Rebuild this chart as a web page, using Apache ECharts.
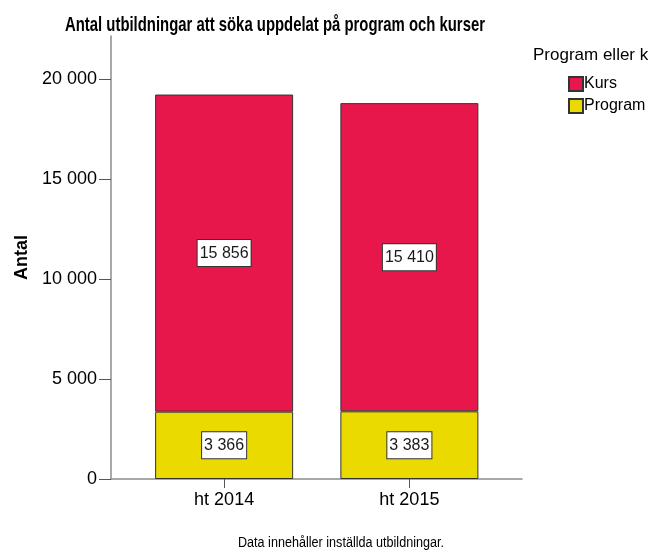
<!DOCTYPE html>
<html>
<head>
<meta charset="utf-8">
<script src="https://cdn.jsdelivr.net/npm/echarts@6/dist/echarts.min.js"></script>
<style>
  html, body { margin: 0; padding: 0; background: #fff; }
  #chart { width: 652px; height: 551px; }
</style>
</head>
<body>
<div id="chart"></div>
<script>
const categories = ["ht 2014", "ht 2015"];
const programValues = [3366, 3383];
const kursValues = [15856, 15410];
const yTicks = [0, 5000, 10000, 15000, 20000];

const titleText = "Antal utbildningar att söka uppdelat på program och kurser";
const noteText = "Data innehåller inställda utbildningar.";

function fmt(v) {
  return String(v).replace(/\B(?=(\d{3})+(?!\d))/g, " ");
}

// squeeze text horizontally to mimic the condensed SPSS font
const measureCtx = document.createElement("canvas").getContext("2d");
function squeeze(text, font, targetWidth) {
  measureCtx.font = font;
  return targetWidth / measureCtx.measureText(text).width;
}
const titleFont = "bold 21px 'Liberation Sans'";
const noteFont = "14px 'Liberation Sans'";
const titleScale = squeeze(titleText, titleFont, 420);
const noteScale = squeeze(noteText, noteFont, 206);

const chart = echarts.init(document.getElementById("chart"));
const labelStyle = {
  show: true,
  position: "inside",
  formatter: (p) => fmt(p.value),
  fontFamily: "Liberation Sans",
  fontSize: 16,
  color: "#1a1a1a",
  backgroundColor: "#fff",
  borderColor: "#333",
  borderWidth: 1,
  padding: [6, 2, 4, 2],
};

chart.setOption({
  animation: false,
  title: [
    {
      text: "Program eller k",
      left: 528,
      top: 42,
      textStyle: { fontFamily: "Liberation Sans", fontWeight: "normal", fontSize: 17, color: "#000" },
    },
  ],
  graphic: [
    {
      type: "text",
      x: 275,
      y: 25,
      scaleX: titleScale,
      style: {
        text: titleText,
        font: titleFont,
        fill: "#000",
        align: "center",
        verticalAlign: "middle",
      },
    },
    {
      type: "text",
      x: 341,
      y: 543,
      scaleX: noteScale,
      style: {
        text: noteText,
        font: noteFont,
        fill: "#000",
        align: "center",
        verticalAlign: "middle",
      },
    },
  ],
  legend: {
    data: ["Kurs", "Program"],
    orient: "vertical",
    left: 563,
    top: 71,
    itemWidth: 14,
    itemHeight: 14,
    itemGap: 6,
    icon: "rect",
    textStyle: { fontFamily: "Liberation Sans", fontSize: 16, color: "#000", padding: [0, 0, 0, -4] },
  },
  grid: [
    { left: 111, right: 130, top: 36, bottom: 72 },
    { left: 131.5, right: 150, top: 36, bottom: 72 },
  ],
  xAxis: [
    {
      gridIndex: 0,
      type: "value",
      min: 0,
      max: 1,
      axisLine: { show: true, lineStyle: { color: "#8c8c8c", width: 1.5 } },
      axisTick: { show: false },
      axisLabel: { show: false },
      splitLine: { show: false },
    },
    {
      gridIndex: 1,
      type: "category",
      data: categories,
      axisLine: { show: false },
      axisTick: { show: true, alignWithLabel: true, length: 9, lineStyle: { color: "#555" } },
      axisLabel: { fontFamily: "Liberation Sans", fontSize: 18, color: "#000", margin: 12 },
    },
  ],
  yAxis: [
    {
      gridIndex: 0,
      type: "value",
      min: 0,
      max: 22150,
      interval: 5000,
      name: "Antal",
      nameLocation: "middle",
      nameGap: 78,
      nameTextStyle: { fontFamily: "Liberation Sans", fontWeight: "bold", fontSize: 18, color: "#000" },
      axisLine: { show: true, lineStyle: { color: "#8c8c8c", width: 1.5 } },
      axisTick: { show: true, length: 12, customValues: yTicks, lineStyle: { color: "#555" } },
      axisLabel: {
        customValues: yTicks,
        formatter: (v) => fmt(v),
        fontFamily: "Liberation Sans",
        fontSize: 18,
        color: "#000",
        margin: 14,
      },
      splitLine: { show: false },
    },
    {
      gridIndex: 1,
      type: "value",
      min: 0,
      max: 22150,
      show: false,
      splitLine: { show: false },
    },
  ],
  series: [
    {
      name: "Program",
      type: "bar",
      stack: "total",
      xAxisIndex: 1,
      yAxisIndex: 1,
      barWidth: 138,
      data: programValues,
      itemStyle: { color: "#EADA00", borderColor: "#333", borderWidth: 1 },
      label: labelStyle,
    },
    {
      name: "Kurs",
      type: "bar",
      stack: "total",
      xAxisIndex: 1,
      yAxisIndex: 1,
      barWidth: 138,
      data: kursValues,
      itemStyle: { color: "#E8174B", borderColor: "#333", borderWidth: 1 },
      label: labelStyle,
    },
  ],
});
window.addEventListener("resize", () => chart.resize(), { passive: true });
</script>
</body>
</html>
